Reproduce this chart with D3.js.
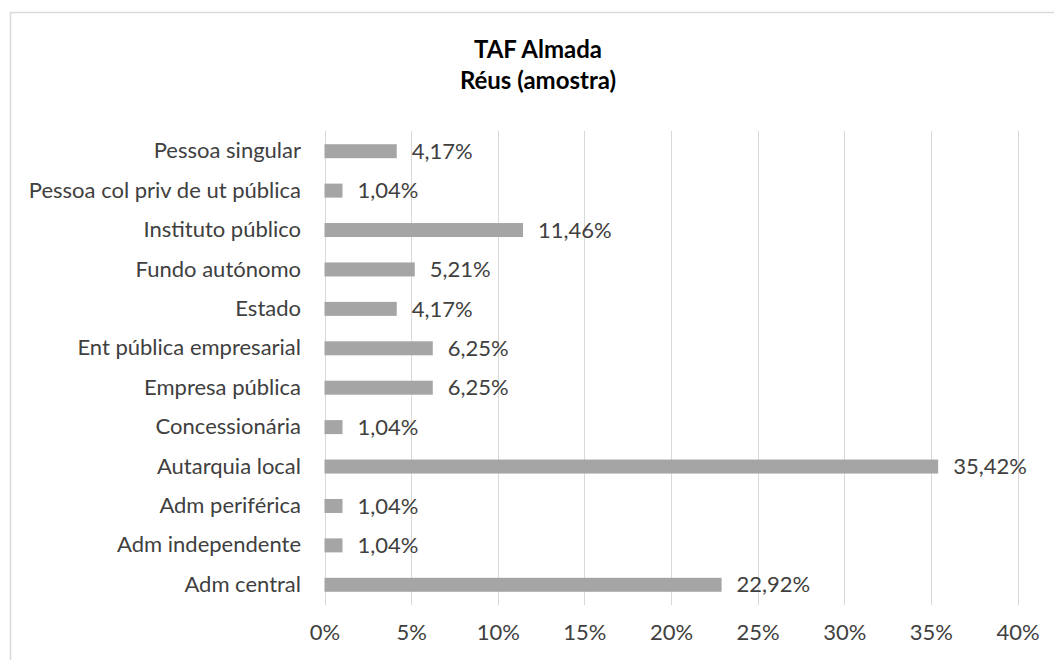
<!DOCTYPE html>
<html lang="pt">
<head>
<meta charset="UTF-8">
<title>TAF Almada - Réus (amostra)</title>
<script src="https://cdn.jsdelivr.net/npm/d3@7"></script>
<style>
  body { margin: 0; background: #fff; }
  svg { display: block; font-family: Lato, "Open Sans", sans-serif; }
</style>
</head>
<body>
<svg width="1054" height="660"></svg>
<script>
// dados (de cima para baixo)
var categorias = [
  "Pessoa singular", "Pessoa col priv de ut pública", "Instituto público",
  "Fundo autónomo", "Estado", "Ent pública empresarial", "Empresa pública",
  "Concessionária", "Autarquia local", "Adm periférica", "Adm independente",
  "Adm central"
];
var valores = [4.17, 1.04, 11.46, 5.21, 4.17, 6.25, 6.25, 1.04, 35.42, 1.04, 1.04, 22.92];
var ticks = [0, 5, 10, 15, 20, 25, 30, 35, 40];
var titulo = ["TAF Almada", "Réus (amostra)"];

var fonte = "Lato, 'Open Sans', sans-serif";
var tam = 22;

var svg = d3.select("svg");

// moldura da área do gráfico
svg.append("rect")
  .attr("x", 10.5).attr("y", 12.5)
  .attr("width", 1100).attr("height", 700)
  .attr("fill", "#fff")
  .attr("stroke", "#d9d9d9").attr("stroke-width", 1.5);

var x = d3.scaleLinear().domain([0, 40]).range([324.5, 1017.5]);
var y = d3.scaleBand().domain(categorias).range([131.5, 604.5]).paddingInner(0.645).paddingOuter(0.3225);

// grelha vertical
svg.append("g").selectAll("line")
  .data(ticks)
  .join("line")
  .attr("x1", function (d) { return Math.round(x(d)) + 0.5; })
  .attr("x2", function (d) { return Math.round(x(d)) + 0.5; })
  .attr("y1", 131).attr("y2", 605)
  .attr("stroke", "#d9d9d9").attr("stroke-width", 1);

// eixo x (só rótulos)
var eixoX = svg.append("g")
  .attr("transform", "translate(0,624)")
  .call(d3.axisBottom(x).tickValues(ticks).tickSize(0).tickPadding(0)
    .tickFormat(function (d) { return d + "%"; }));
eixoX.select(".domain").remove();
eixoX.selectAll("text")
  .attr("font-family", fonte)
  .attr("font-size", tam).attr("fill", "#404040");

// eixo y (categorias)
var eixoY = svg.append("g")
  .attr("transform", "translate(324,0)")
  .call(d3.axisLeft(y).tickSize(0).tickPadding(23));
eixoY.select(".domain").remove();
eixoY.selectAll("text")
  .attr("font-family", fonte)
  .attr("font-size", tam).attr("fill", "#404040");

// barras
svg.append("g").selectAll("rect")
  .data(valores)
  .join("rect")
  .attr("x", x(0))
  .attr("y", function (d, i) { return y(categorias[i]); })
  .attr("width", function (d) { return x(d) - x(0); })
  .attr("height", y.bandwidth())
  .attr("fill", "#a5a5a5");

// rótulos de valor
svg.append("g").selectAll("text")
  .data(valores)
  .join("text")
  .attr("x", function (d) { return x(d) + 15; })
  .attr("y", function (d, i) { return y(categorias[i]) + y.bandwidth() / 2; })
  .attr("dy", "0.35em")
  .attr("font-family", fonte)
  .attr("font-size", tam).attr("fill", "#404040")
  .text(function (d) { return d.toFixed(2).replace(".", ",") + "%"; });

// título
svg.append("g").selectAll("text")
  .data(titulo)
  .join("text")
  .attr("x", 538)
  .attr("y", function (d, i) { return 58 + i * 31; })
  .attr("text-anchor", "middle")
  .attr("font-family", fonte)
  .attr("font-size", 24).attr("font-weight", "bold").attr("fill", "#000")
  .text(function (d) { return d; });
</script>
</body>
</html>
